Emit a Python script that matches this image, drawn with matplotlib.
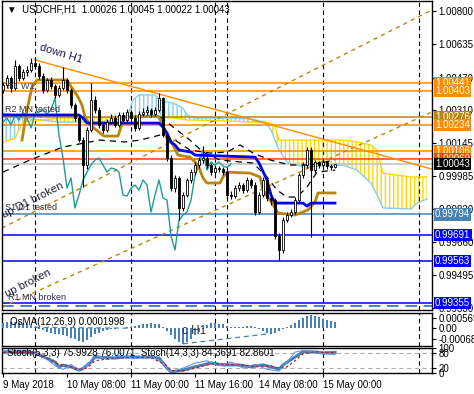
import matplotlib
matplotlib.use('Agg')
import matplotlib.pyplot as plt
import numpy as np

plt.rcParams['font.family'] = ['Liberation Sans', 'DejaVu Sans']
plt.rcParams['hatch.linewidth'] = 1.0

# ---- USDCHF H1 candles (bar index 0 = 9 May 16:00) ----
opens = [1.00410, 1.00433, 1.00468, 1.00418, 1.00527, 1.00468, 1.00497, 1.00507, 1.00542, 1.00527,
         1.00478, 1.00409, 1.00458, 1.00428, 1.00384, 1.00418, 1.00458, 1.00409, 1.00334, 1.00270,
         1.00161, 1.00038, 1.00211, 1.00359, 1.00310, 1.00236, 1.00211, 1.00250, 1.00270, 1.00236,
         1.00285, 1.00260, 1.00300, 1.00270, 1.00221, 1.00290, 1.00300, 1.00310, 1.00290, 1.00310,
         1.00369, 1.00186, 1.00073, 0.99924, 0.99974, 0.99826, 0.99890, 0.99964, 1.00003, 1.00038,
         1.00063, 1.00073, 1.00038, 1.00003, 1.00023, 1.00018, 1.00003, 0.99890, 0.99885, 0.99924,
         0.99939, 0.99914, 0.99964, 0.99939, 0.99806, 0.99890, 0.99964, 0.99875, 0.99865, 0.99687,
         0.99618, 0.99766, 0.99791, 0.99806, 0.99865, 0.99988, 1.00038, 1.00112, 1.00013, 1.00053,
         1.00038, 1.00053, 1.00033, 1.00026]
closes = [1.00433, 1.00468, 1.00418, 1.00527, 1.00468, 1.00497, 1.00507, 1.00542, 1.00527, 1.00478,
          1.00409, 1.00458, 1.00428, 1.00384, 1.00418, 1.00458, 1.00409, 1.00334, 1.00270, 1.00161,
          1.00038, 1.00211, 1.00359, 1.00310, 1.00236, 1.00211, 1.00250, 1.00270, 1.00236, 1.00285,
          1.00260, 1.00300, 1.00270, 1.00221, 1.00290, 1.00300, 1.00310, 1.00290, 1.00310, 1.00369,
          1.00186, 1.00073, 0.99924, 0.99974, 0.99826, 0.99890, 0.99964, 1.00003, 1.00038, 1.00063,
          1.00073, 1.00038, 1.00003, 1.00023, 1.00018, 1.00003, 0.99890, 0.99885, 0.99924, 0.99939,
          0.99914, 0.99964, 0.99939, 0.99806, 0.99890, 0.99964, 0.99875, 0.99865, 0.99687, 0.99618,
          0.99766, 0.99791, 0.99806, 0.99865, 0.99988, 1.00038, 1.00112, 1.00013, 1.00053, 1.00038,
          1.00053, 1.00033, 1.00026, 1.00043]
highs = [1.00450, 1.00485, 1.00480, 1.00557, 1.00535, 1.00510, 1.00525, 1.00567, 1.00565, 1.00540,
         1.00490, 1.00470, 1.00475, 1.00440, 1.00435, 1.00522, 1.00470, 1.00420, 1.00345, 1.00285,
         1.00175, 1.00225, 1.00443, 1.00380, 1.00325, 1.00250, 1.00265, 1.00290, 1.00285, 1.00300,
         1.00300, 1.00315, 1.00310, 1.00285, 1.00305, 1.00320, 1.00330, 1.00320, 1.00325, 1.00394,
         1.00375, 1.00195, 1.00085, 0.99990, 0.99985, 0.99905, 0.99975, 1.00020, 1.00055, 1.00080,
         1.00130, 1.00085, 1.00050, 1.00040, 1.00035, 1.00030, 1.00015, 0.99910, 0.99940, 0.99955,
         0.99950, 0.99980, 0.99975, 0.99955, 0.99905, 0.99980, 0.99975, 0.99890, 0.99875, 0.99700,
         0.99780, 0.99805, 0.99820, 0.99880, 1.00000, 1.00055, 1.00127, 1.00125, 1.00065, 1.00060,
         1.00068, 1.00060, 1.00045, 1.00045]
lows = [1.00395, 1.00420, 1.00400, 1.00410, 1.00455, 1.00460, 1.00480, 1.00495, 1.00510, 1.00465,
        1.00395, 1.00400, 1.00415, 1.00370, 1.00375, 1.00410, 1.00395, 1.00320, 1.00255, 1.00150,
        0.99929, 1.00020, 1.00200, 1.00295, 1.00220, 1.00195, 1.00200, 1.00240, 1.00225, 1.00225,
        1.00250, 1.00250, 1.00260, 1.00205, 1.00210, 1.00280, 1.00285, 1.00275, 1.00280, 1.00300,
        1.00175, 1.00060, 0.99910, 0.99905, 0.99766, 0.99810, 0.99880, 0.99950, 0.99990, 1.00025,
        1.00050, 1.00025, 0.99990, 0.99995, 1.00005, 0.99990, 0.99875, 0.99870, 0.99875, 0.99910,
        0.99900, 0.99905, 0.99925, 0.99790, 0.99795, 0.99880, 0.99860, 0.99840, 0.99675, 0.99569,
        0.99605, 0.99755, 0.99780, 0.99795, 0.99855, 0.99975, 1.00025, 0.99682, 1.00000, 1.00025,
        1.00030, 1.00020, 1.00015, 1.00022]

# ---- Ichimoku lines ----
kijun_x = [0, 19, 20, 21, 39, 40, 41, 42, 43, 44, 47, 48, 63, 64, 66, 67, 68, 75, 76, 77, 83]
kijun_y = [1.00285, 1.00285, 1.00270, 1.00245, 1.00245, 1.00226, 1.00196, 1.00152, 1.00137, 1.00112,
           1.00102, 1.00087, 1.00077, 1.00048, 0.99964, 0.99890, 0.99850, 0.99850, 0.99835, 0.99850, 0.99850]
tenkan_x = [4.75, 6, 7.25, 8.5, 16, 17.25, 18.75, 19.75, 20.5, 21.75, 24.25, 25.25, 28.75, 29.5, 30.25,
            38.75, 40, 41, 42.5, 43.75, 46.75, 48.75, 50, 51, 54.25, 55, 56, 61.75, 64.25, 65, 67.25,
            68.75, 73, 76.25, 78, 78.75, 83]
tenkan_y = [1.00161, 1.00310, 1.00423, 1.00458, 1.00458, 1.00418, 1.00374, 1.00334, 1.00275, 1.00236,
            1.00196, 1.00181, 1.00181, 1.00226, 1.00275, 1.00280, 1.00236, 1.00171, 1.00137, 1.00087,
            1.00077, 1.00038, 0.99974, 0.99949, 0.99949, 0.99979, 1.00003, 0.99998, 0.99979, 0.99914,
            0.99850, 0.99801, 0.99791, 0.99816, 0.99855, 0.99900, 0.99900]
chikou_shift = 26

cloud_x = [-0.5, 3, 5, 14, 24, 31, 32.5, 34, 38, 39, 42.5, 45, 46, 48, 57, 62, 65.5, 67, 68, 69,
           71, 75, 85, 88.5, 92, 93.5, 95, 102, 103.5, 106]
span_a = [1.00295, 1.00285, 1.00270, 1.00250, 1.00250, 1.00270, 1.00359, 1.00384, 1.00384, 1.00359,
          1.00344, 1.00319, 1.00285, 1.00270, 1.00270, 1.00265, 1.00250, 1.00211, 1.00161, 1.00112,
          1.00053, 1.00028, 1.00038, 1.00013, 0.99949, 0.99890, 0.99826, 0.99821, 0.99850, 0.99870]
span_b = [1.00147, 1.00171, 1.00250, 1.00270, 1.00270, 1.00275, 1.00275, 1.00275, 1.00275, 1.00275,
          1.00270, 1.00265, 1.00260, 1.00260, 1.00255, 1.00250, 1.00250, 1.00245, 1.00231, 1.00161,
          1.00161, 1.00161, 1.00161, 1.00152, 1.00137, 1.00112, 0.99998, 0.99979, 0.99979, 0.99979]

# black dashed averages
ma1_x = [0, 6.75, 15, 24.25, 30.5, 34.25, 39.25, 43, 46.75, 51.75, 56, 59.25, 62.5, 66.75, 71.75, 76.75, 83]
ma1_y = [1.00003, 1.00063, 1.00127, 1.00161, 1.00152, 1.00161, 1.00186, 1.00161, 1.00112, 1.00097,
         1.00102, 1.00137, 1.00097, 1.00063, 1.00038, 1.00038, 1.00063]
ma2_x = [39.25, 43.5, 46.75, 50, 54.25, 59.25, 62.5, 66, 68.5, 71, 73.5, 76, 78.5, 83]
ma2_y = [1.00275, 1.00211, 1.00161, 1.00102, 1.00063, 1.00053, 1.00048, 0.99979, 0.99914, 0.99880,
         0.99880, 0.99929, 1.00003, 1.00013]

# trend lines (start, end)
down_h1_x, down_h1_y = [8, 107.25], [1.00557, 1.00018]
up_d1_x, up_d1_y = [-0.25, 107.25], [0.99727, 1.00804]
up_x, up_y = [-0.25, 107.25], [0.99336, 1.00300]

# horizontal levels
level_prices = [1.00441, 1.00403, 1.00276, 1.00234, 1.00106, 1.00069, 1.00043, 0.99794, 0.99691, 0.99563, 0.99355]
level_colors = ['#FF8C00', '#FF8C00', '#B8860B', '#FF8C00', '#FF8C00', '#FF4500', '#C0C0C0',
                '#4682B4', '#0000FF', '#0000FF', '#0000FF']
box_colors = ['#FF8C00', '#FF8C00', '#B8860B', '#FF8C00', '#FF8C00', '#FF4500', '#000000',
              '#4682B4', '#0000FF', '#0000FF', '#0000FF']
price_ticks = [1.00800, 1.00635, 1.00470, 1.00310, 1.00145, 0.99985, 0.99820, 0.99660, 0.99495, 0.99330]

# ---- OsMA histogram ----
osma = [0.00030, 0.00035, 0.00037, 0.00036, 0.00033, 0.00030, 0.00025, 0.00015, 0.00005, -0.00005,
        -0.00015, -0.00025, -0.00030, -0.00035, -0.00040, -0.00045, -0.00050, -0.00060, -0.00070, -0.00080,
        -0.00088, -0.00075, -0.00055, -0.00040, -0.00030, -0.00022, -0.00015, -0.00010, -0.00006, -0.00003,
        0.00001, 0.00003, 0.00006, 0.00010, 0.00015, 0.00020, 0.00024, 0.00026, 0.00025, 0.00020,
        0.00005, -0.00020, -0.00045, -0.00065, -0.00085, -0.00095, -0.00085, -0.00065, -0.00045, -0.00025,
        -0.00005, 0.00015, 0.00030, 0.00030, 0.00025, 0.00020, 0.00010, 0.00005, 0.00003, 0.00004,
        0.00006, 0.00008, 0.00008, 0.00004, -0.00008, -0.00020, -0.00030, -0.00035, -0.00030, -0.00020,
        -0.00008, 0.00005, 0.00015, 0.00030, 0.00045, 0.00060, 0.00072, 0.00075, 0.00072, 0.00062,
        0.00055, 0.00048, 0.00042, 0.00037]
osma_line1_x, osma_line1_y = [8, 32], [0.00002, -0.00003]
osma_line2_x, osma_line2_y = [45, 67], [-0.00097, -0.00035]

# ---- Stochastics ----
st14_x = [0, 8, 13, 14, 15, 17, 19, 20, 22, 23, 28, 30, 37, 39, 41, 42, 45, 48, 52, 55, 59, 62, 65,
          67, 69, 70, 73, 75, 78, 80, 83]
st14_main = [86, 82, 45, 25, 32, 25, 12, 18, 45, 65, 61, 65, 65, 61, 20, 5, 12, 25, 41, 33, 33, 25, 33,
             25, 16, 33, 65, 86, 86, 82, 84]
st14_sig_x = [0, 8, 14, 17, 19, 21, 23, 28, 37, 41, 42, 45, 48, 52, 59, 62, 67, 69, 71, 73, 75, 78, 80, 83]
st14_sig = [84, 84, 35, 25, 15, 20, 50, 62, 63, 30, 10, 8, 20, 38, 33, 28, 27, 20, 25, 50, 78, 87, 84, 83]
st5_x = [0, 6, 10, 13, 15, 17, 19, 21, 23, 26, 29, 33, 37, 40, 42, 45, 48, 51, 54, 57, 60, 63, 66,
         69, 71, 73, 75, 78, 80, 83]
st5_main = [90, 92, 70, 30, 15, 35, 10, 30, 75, 55, 70, 60, 70, 40, 3, 20, 40, 50, 30, 45, 20, 35, 15,
            8, 45, 85, 92, 88, 78, 76]

sep_idx = [8, 32, 53, 56, 80, 104]
date_ticks = [0, 16, 32, 48, 64, 80]
date_labels = ['9 May 2018', '10 May 08:00', '11 May 00:00', '11 May 16:00', '14 May 08:00', '15 May 00:00']

XLIM = (-0.25, 107.25)
FS = 7

fig = plt.figure(figsize=(4.74, 3.94), dpi=100)
ax = fig.add_axes([0.00422, 0.2132, 0.90717, 0.78426])
ax2 = fig.add_axes([0.00422, 0.1218, 0.90717, 0.0845])
ax3 = fig.add_axes([0.00422, 0.0533, 0.90717, 0.0622])

idx = np.arange(len(closes))
o = np.array(opens); c = np.array(closes)

# cloud
ca, cb = np.array(span_a), np.array(span_b)
ax.fill_between(cloud_x, ca, cb, where=ca >= cb, interpolate=True, facecolor='none',
                edgecolor='#87CEEB', hatch='||||', linewidth=0, zorder=1)
ax.fill_between(cloud_x, ca, cb, where=ca < cb, interpolate=True, facecolor='none',
                edgecolor='#FFD700', hatch='||||', linewidth=0, zorder=1)
ax.plot(cloud_x, span_a, color='#87CEEB', lw=1, zorder=1.5)
ax.plot(cloud_x, span_b, color='#FFD700', lw=1, zorder=1.5)

for p, col in zip(level_prices, level_colors):
    ax.axhline(p, color=col, lw=1.1, zorder=2)
ax.axhline(0.99340, color='#3366CC', lw=1.2, ls=(0, (7, 4)), zorder=2)

ax.plot(down_h1_x, down_h1_y, color='#FF8C00', lw=1, zorder=2)
ax.plot(up_d1_x, up_d1_y, color='#B8860B', lw=1, ls=(0, (3, 3)), zorder=2)
ax.plot(up_x, up_y, color='#B8860B', lw=1, ls=(0, (3, 3)), zorder=2)

ax.plot(ma1_x, ma1_y, color='black', lw=0.9, ls=(0, (5, 4)), zorder=2.5)
ax.plot(ma2_x, ma2_y, color='black', lw=0.9, ls=(0, (5, 4)), zorder=2.5)

ax.plot(idx[:len(closes) - chikou_shift], closes[chikou_shift:], color='#1E9C9C', lw=1, zorder=3)
ax.plot(tenkan_x, tenkan_y, color='#B8860B', lw=2, zorder=3)
ax.plot(kijun_x, kijun_y, color='#0000FF', lw=2, zorder=3)

# candles
ax.vlines(idx, lows, highs, color='black', lw=0.8, zorder=4)
body_lo = np.minimum(o, c)
body_h = np.maximum(np.abs(c - o), 0.000015)
face = ['white' if cc > oo else 'black' for oo, cc in zip(o, c)]
ax.bar(idx, body_h, bottom=body_lo, width=0.7, color=face, edgecolor='black', linewidth=0.6, zorder=5)

for a in (ax, ax2, ax3):
    for s in sep_idx:
        a.axvline(s, color='black', lw=0.8, ls=(0, (4, 3)), zorder=1)
    a.set_xlim(*XLIM)
    a.yaxis.tick_right()
    a.tick_params(axis='y', labelsize=FS, length=3, pad=1.5, width=0.8)
    for sp in a.spines.values():
        sp.set_linewidth(1)

ax.set_ylim(0.99322, 1.00848)
ax.set_yticks(price_ticks)
ax.set_yticklabels(['%.5f' % t for t in price_ticks])
ax.set_xticks([])

for p, col in zip(level_prices, box_colors):
    ax.text(1.007, p, '%.5f' % p, transform=ax.get_yaxis_transform(), ha='left', va='center',
            fontsize=FS, color='white', clip_on=False, zorder=20,
            bbox=dict(boxstyle='square,pad=0.12', fc=col, ec='none'))

ax.text(0.012, 0.972, '\u25bc  USDCHF,H1  1.00026 1.00045 1.00022 1.00043', transform=ax.transAxes,
        fontsize=FS, va='center', ha='left')
ax.text(14.5, 1.00586, 'down H1', rotation=-17, fontsize=8, color='#1c1c50', ha='center', va='center', zorder=6)
ax.text(1, 1.00428, 'R1 W1', fontsize=6.5, color='#404040', ha='left', va='center', zorder=6)
ax.text(0.5, 1.00310, 'R2 MN tested', fontsize=6.5, color='#303040', ha='left', va='center', zorder=6)
ax.text(0.5, 0.99826, 'S1 D1 tested', fontsize=6.5, color='#303040', ha='left', va='center', zorder=6)
ax.text(7.5, 0.99865, 'up D1 broken', rotation=27, fontsize=8, color='#1c1c30', ha='center', va='center', zorder=6)
ax.text(6.25, 0.99455, 'up broken', rotation=27, fontsize=8, color='#1c1c30', ha='center', va='center', zorder=6)
ax.text(1.25, 0.99386, 'R1 MN broken', fontsize=6.5, color='#303040', ha='left', va='center', zorder=6)

# OsMA
ax2.bar(idx, osma, width=0.6, color='#4682B4', zorder=3)
ax2.plot(osma_line1_x, osma_line1_y, color='#4682B4', lw=0.9, ls=(0, (4, 3)), zorder=3)
ax2.plot(osma_line2_x, osma_line2_y, color='#4682B4', lw=0.9, ls=(0, (4, 3)), zorder=3)
ax2.set_ylim(-0.0011, 0.0009)
ax2.set_yticks([0.000569, 0.0, -0.000685])
ax2.set_yticklabels(['0.000569', '0.00', '-0.000685'])
ax2.set_xticks([])
ax2.text(0.019, 0.72, 'OsMA(12,26,9) 0.0001998', transform=ax2.transAxes, fontsize=FS, va='center')
ax2.text(0.447, 0.44, 'c H1', transform=ax2.transAxes, fontsize=8.5, color='#303030', ha='center', va='center')

# Stochastics
for lvl in (20, 80):
    ax3.axhline(lvl, color='#B0B0B0', lw=0.8, ls=(0, (4, 3)), zorder=1)
ax3.plot(st5_x, st5_main, color='#6495ED', lw=0.8, zorder=3)
ax3.plot(st14_sig_x, st14_sig, color='#B22222', lw=0.9, ls=(0, (2, 2)), zorder=3)
ax3.plot(st14_x, st14_main, color='#4682B4', lw=2.2, zorder=2)
ax3.set_ylim(0, 100)
ax3.set_yticks([0, 20, 80, 100])
ax3.set_yticklabels(['0', '20', '80', '100'])
ax3.text(0.012, 0.82, 'Stoch(5,3,3) 75.9928 76.0071  Stoch(14,3,3) 84.3691 82.8601',
         transform=ax3.transAxes, fontsize=FS, va='center')
ax3.set_xticks(date_ticks)
ax3.set_xticklabels(date_labels, ha='left')
ax3.tick_params(axis='x', labelsize=FS, length=3, pad=2, width=0.8)

fig.savefig('out.png', dpi=100)
